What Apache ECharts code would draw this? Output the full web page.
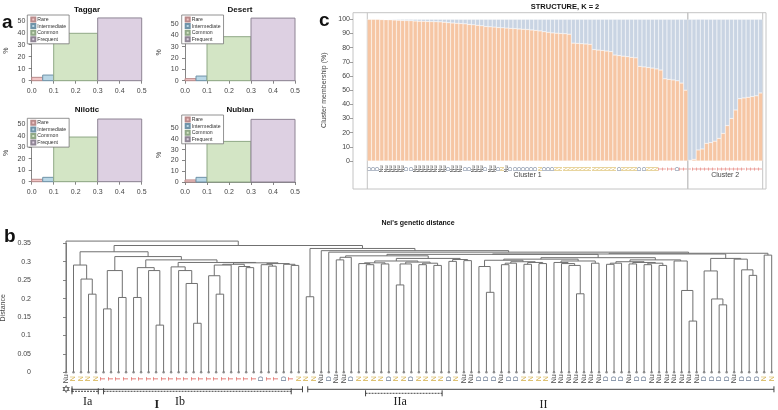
<!DOCTYPE html>
<html><head><meta charset="utf-8">
<script src="https://cdn.jsdelivr.net/npm/echarts@6/dist/echarts.min.js"></script>
<style>html,body{margin:0;padding:0;background:#fff}#c{width:778px;height:410px}</style>
</head><body><div id="c"></div><script>
// ---------- Panel a: allele-frequency class histograms ----------
const histTitles = ['Taggar', 'Desert', 'Nilotic', 'Nubian'];
const classNames = ['Rare', 'Intermediate', 'Common', 'Frequent'];
const classEdges = [0, 0.05, 0.1, 0.3, 0.5];
const taggarPct = [2.8, 4.7, 39.5, 52.3];
const desertPct = [1.8, 4.1, 38.8, 55.2];
const niloticPct = [2.1, 3.8, 38.9, 54.6];
const nubianPct = [1.9, 4.3, 37.6, 58.0];
const histPct = [taggarPct, desertPct, niloticPct, nubianPct];

// ---------- Panel c: STRUCTURE K = 2 ----------
const structPops = ('D D D Nu Nu Nu Nu Nu Nu D D Nu Nu Nu Nu Nu Nu Nu Nu D Nu Nu Nu D D Nu Nu Nu D Nu Nu D N Nu ' +
  'D D D D D D D N D D D N N N N N N N N N N N N N N N D N N N N D D N N N T T T T D T T ' +
  'T T T T T T T T T T T T T T T T T T').split(' ');
const cluster1Pct = [100, 100, 100, 99.8, 99.7, 99.6, 99.5, 99.4, 99.2,
  99.1, 99.0, 98.8, 98.7, 98.6, 98.5, 98.4, 98.3, 98.2, 98.0,
  97.6, 97.4, 97.2, 97.0, 96.8,
  96.4, 96.1, 95.8, 95.4,
  94.9, 94.7, 94.5, 94.2, 94.0, 93.8,
  93.6, 93.4, 93.2, 93.0, 92.8, 92.5, 92.2, 91.8,
  91.2, 90.8, 90.4, 90.2, 90.0, 89.8, 89.5,
  83.2, 83.0, 82.8, 82.6, 82.4,
  78.6, 78.3, 78.0, 77.6, 77.2,
  74.8, 74.4, 74.0, 73.6, 73.2, 72.8,
  66.8, 66.4, 66.0, 65.6, 65.0, 64.2,
  58.0, 57.6, 57.2, 56.6, 55.0,
  50.0,
  0.5, 1.2, 7.8, 8.5, 12.5, 13.0, 14.0, 16.0, 19.5, 25.0, 30.0, 36.0, 44.0, 44.5, 45.0, 45.5, 46.0, 48.0];
const clusterNames = ['Cluster 1', 'Cluster 2'];
const clusterSizes = [77, 18];

// ---------- Panel b: Nei's genetic distance dendrogram ----------
const leafPops = ('Nu N N N N T T T T T T T T T T T T T T T T T T T T T D T T D T N N N Nu D Nu Nu D N N N N D N N D ' +
  'N N N N D N Nu Nu D D D Nu D D N N N N Nu Nu Nu Nu Nu Nu Nu D D D Nu D D Nu Nu Nu Nu Nu Nu Nu D D D D Nu D D D N N').split(' ');
// nested merges: [height, left, right]; leaves are leaf indices
const clusterIa = [0.291, 1, [0.253, 2, [0.212, 3, 4]]];
const clusterIb = [0.314,
  [0.276, [0.172, 5, 6], [0.203, 7, 8]],
  [0.305,
    [0.284, [0.203, 9, 10], [0.276, 11, [0.128, 12, 13]]],
    [0.298,
      [0.286, 14, [0.276, 15, [0.241, 16, [0.133, 17, 18]]]],
      [0.297,
        [0.293, [0.291, [0.262, 19, [0.212, 20, 21]], 22], [0.287, 23, [0.284, 24, 25]]],
        [0.295, [0.292, 26, [0.288, 27, 28]], [0.293, 29, [0.290, 30, 31]]]]]]];
const groupP = [0.312, [0.305, 36, 37], 38];
const groupQ = [0.302, [0.297, [0.295, 39, [0.292, 40, 41]], [0.294, 42, 43]],
  [0.299, [0.294, [0.237, 44, 45], 46], [0.296, [0.292, 47, 48], [0.290, 49, 50]]]];
const groupR = [0.306, [0.301, 51, 52], [0.303, 53, 54]];
const groupS = [0.287, 55, [0.217, 56, 57]];
const groupT = [0.300, [0.296, [0.292, 58, 59], 60], [0.298, [0.293, 61, 62], [0.295, 63, 64]]];
const groupU = [0.302, [0.298, 65, [0.295, 66, [0.290, 67, [0.213, 68, 69]]]], [0.296, 70, 71]];
const groupV = [0.300, [0.296, [0.293, 72, 73], 74], [0.298, [0.294, 75, 76], [0.296, [0.292, 77, 78], [0.290, 79, 80]]]];
const groupW = [0.302, 81, [0.222, 82, [0.139, 83, 84]]];
const groupX = [0.309, [0.275, 85, [0.199, 86, [0.183, 87, 88]]], [0.307, 89, [0.278, 90, [0.263, 91, 92]]]];
const groupY = [0.318, 93, 94];
const clusterII = [0.336, [0.205, 32, 33],
  [0.330, 34, [0.326, 35,
    [0.323,
      [0.321,
        [0.320, [0.316, groupP, [0.309, groupQ, groupR]],
                [0.311, [0.307, [0.304, groupS, groupT], groupU], [0.305, groupV, groupW]]],
        groupX],
      groupY]]]];
const neiTree = [0.356, 0, [0.344, [0.327, clusterIa, clusterIb], clusterII]];
const bracketNames = ['I', 'Ia', 'Ib', 'II', 'IIa'];
const bracketFrom = [0.8, 0.8, 5.0, 32.2, 39.9];
const bracketTo = [31.5, 4.3, 30.0, 94.3, 50.1];
const bracketLabelAt = [12.1, 2.9, 15.2, 63.6, 44.5];

// ---------- styles ----------
const classFill = ['#f2c6c6', '#b9d7e6', '#d3e5c5', '#ddd0e2'];
const classStroke = ['#b98a8a', '#6f93a8', '#8fa886', '#8e8494'];
const popColor = { T: '#de5f58', N: '#d5b14c', D: '#6d7d96', Nu: '#4a4a4a' };
const FONT = '"Liberation Sans", Arial, sans-serif';
const SERIF = '"Liberation Serif", "Times New Roman", serif';

// dendrogram node segments computed from the tree
const dendroNodes = [];
function walk(node) {
  if (typeof node === 'number') return { x: node, h: 0 };
  const L = walk(node[1]), R = walk(node[2]);
  dendroNodes.push([L.x, L.h, R.x, R.h, node[0]]);
  return { x: (L.x + R.x) / 2, h: node[0] };
}
walk(neiTree);

const histGrids = [
  { left: 31.7, width: 110, top: 20.7, height: 60 },
  { left: 185, width: 110, top: 24, height: 56.7 },
  { left: 31.7, width: 110, top: 124.3, height: 57.4 },
  { left: 185, width: 110, top: 128, height: 54 }
];
const histTitlePos = [[87, 10], [240, 10], [87, 110], [240, 110]];
const legendPos = [[27.3, 15], [181.7, 15], [27.3, 118.3], [181.7, 115]];

const grid = histGrids.slice();
grid.push({ left: 367.3, right: 15.3, top: 19.3, height: 141.7 });
grid.push({ left: 66, right: 6.3, top: 243.3, height: 129 });
grid.forEach(g => { g.outerBoundsMode = 'none'; g.containLabel = false; });

const axisTxt = { fontSize: 7, color: '#444', fontFamily: FONT };
const xAxis = [], yAxis = [];
for (let i = 0; i < 4; i++) {
  xAxis.push({ gridIndex: i, type: 'value', min: 0, max: 0.5, interval: 0.1, offset: 3.5,
    axisLine: { show: true, lineStyle: { color: '#666', width: 0.8 } },
    axisTick: { show: true, length: 3, lineStyle: { color: '#666', width: 0.8 } },
    axisLabel: Object.assign({ margin: 3, formatter: v => v.toFixed(1) }, axisTxt),
    splitLine: { show: false } });
  yAxis.push({ gridIndex: i, type: 'value', min: 0, max: 50, interval: 10, offset: 4.4,
    axisLine: { show: true, lineStyle: { color: '#666', width: 0.8 } },
    axisTick: { show: true, length: 3, lineStyle: { color: '#666', width: 0.8 } },
    axisLabel: Object.assign({ margin: 2 }, axisTxt),
    name: '%', nameLocation: 'middle', nameGap: 18, nameRotate: 90,
    nameTextStyle: { fontSize: 7, color: '#444', fontFamily: FONT },
    splitLine: { show: false } });
}
xAxis.push({ gridIndex: 4, type: 'category', data: structPops.map((p, i) => i), show: false });
yAxis.push({ gridIndex: 4, type: 'value', min: 0, max: 100, interval: 10, offset: 14.3,
  axisLine: { show: false },
  axisTick: { show: true, length: 3, lineStyle: { color: '#888', width: 0.8 } },
  axisLabel: Object.assign({ margin: 3 }, axisTxt),
  name: 'Cluster membership (%)', nameLocation: 'middle', nameGap: 17, nameRotate: 90,
  nameTextStyle: { fontSize: 7, color: '#444', fontFamily: FONT },
  splitLine: { show: false } });
xAxis.push({ gridIndex: 5, type: 'value', min: 0, max: 94, show: false });
yAxis.push({ gridIndex: 5, type: 'value', min: 0, max: 0.35, interval: 0.05, offset: 33,
  axisLine: { show: true, lineStyle: { color: '#666', width: 0.8 } },
  axisTick: { show: true, length: 3, lineStyle: { color: '#666', width: 0.8 } },
  axisLabel: Object.assign({ margin: 2 }, axisTxt),
  name: 'Distance', nameLocation: 'middle', nameGap: 21, nameRotate: 90,
  nameTextStyle: { fontSize: 7, color: '#444', fontFamily: FONT },
  splitLine: { show: false } });

const series = [];
histPct.forEach((vals, g) => {
  classNames.forEach((name, k) => {
    series.push({
      type: 'custom', name, xAxisIndex: g, yAxisIndex: g, clip: false,
      itemStyle: { color: classFill[k], borderColor: classStroke[k], borderWidth: 1 },
      encode: { x: [0, 1], y: 2 },
      data: [[classEdges[k], classEdges[k + 1], vals[k]]],
      renderItem: (params, api) => {
        const p0 = api.coord([api.value(0), api.value(2)]);
        const p1 = api.coord([api.value(1), 0]);
        return { type: 'rect', shape: { x: p0[0], y: p0[1], width: p1[0] - p0[0], height: p1[1] - p0[1] },
          style: { fill: classFill[k], stroke: classStroke[k], lineWidth: 1 } };
      }
    });
  });
});

// STRUCTURE bars
series.push({ type: 'bar', name: 'K1', xAxisIndex: 4, yAxisIndex: 4, stack: 'k', barCategoryGap: 0,
  itemStyle: { color: '#f6c6a4', borderColor: 'rgba(255,255,255,0.45)', borderWidth: 0.5 },
  data: cluster1Pct, silent: true });
series.push({ type: 'bar', name: 'K2', xAxisIndex: 4, yAxisIndex: 4, stack: 'k', barCategoryGap: 0,
  itemStyle: { color: '#c9d4e3', borderColor: 'rgba(255,255,255,0.45)', borderWidth: 0.5 },
  data: cluster1Pct.map(v => +(100 - v).toFixed(2)), silent: true });
// STRUCTURE population labels
series.push({ type: 'custom', xAxisIndex: 4, yAxisIndex: 4, clip: false, silent: true,
  data: structPops.map((p, i) => [i, 0]),
  renderItem: (params, api) => {
    const p = api.coord([api.value(0), 0]);
    const code = structPops[params.dataIndex];
    return { type: 'text', x: p[0], y: p[1] + 8, rotation: Math.PI / 2,
      style: { text: code, fill: popColor[code], fontSize: 5.5, fontFamily: FONT, align: 'center', verticalAlign: 'middle' } };
  } });
// STRUCTURE cluster dividers and names
const clusterStarts = [0, clusterSizes[0]];
series.push({ type: 'custom', xAxisIndex: 4, yAxisIndex: 4, clip: false, silent: true,
  data: clusterNames.map((n, i) => [clusterStarts[i], clusterStarts[i] + clusterSizes[i] - 1]),
  renderItem: (params, api) => {
    const band = api.size([1, 0])[0];
    const a = api.coord([api.value(0), 100]);
    const b = api.coord([api.value(1), 0]);
    const xl = a[0] - band / 2, xr = b[0] + band / 2;
    const yt = a[1] - 6.6, yb = b[1] + 28;
    const children = [
      { type: 'line', shape: { x1: xl, y1: yt, x2: xl, y2: yb }, style: { stroke: '#c4c4c4', lineWidth: 1 } },
      { type: 'line', shape: { x1: xr, y1: yt, x2: xr, y2: yb }, style: { stroke: '#c4c4c4', lineWidth: 1 } },
      { type: 'text', x: (xl + xr) / 2, y: b[1] + 14.5,
        style: { text: clusterNames[params.dataIndex], fill: '#444', fontSize: 7, fontFamily: FONT, align: 'center', verticalAlign: 'middle' } }
    ];
    return { type: 'group', children };
  } });

// dendrogram
series.push({ type: 'custom', xAxisIndex: 5, yAxisIndex: 5, clip: false, silent: true,
  encode: { x: [0, 2], y: [1, 3, 4] },
  data: dendroNodes,
  renderItem: (params, api) => {
    const a = api.coord([api.value(0), api.value(1)]);
    const b = api.coord([api.value(0), api.value(4)]);
    const c = api.coord([api.value(2), api.value(4)]);
    const d = api.coord([api.value(2), api.value(3)]);
    return { type: 'polyline', shape: { points: [a, b, c, d] }, style: { stroke: '#707070', lineWidth: 1, fill: null } };
  } });
series.push({ type: 'scatter', xAxisIndex: 5, yAxisIndex: 5, symbol: 'circle', symbolSize: 2.5, silent: true,
  itemStyle: { color: '#777' }, data: leafPops.map((p, i) => [i, 0]) });
series.push({ type: 'custom', xAxisIndex: 5, yAxisIndex: 5, clip: false, silent: true,
  data: leafPops.map((p, i) => [i, 0]),
  renderItem: (params, api) => {
    const p = api.coord([api.value(0), 0]);
    const code = leafPops[params.dataIndex];
    return { type: 'text', x: p[0], y: p[1] + 6.5, rotation: Math.PI / 2,
      style: { text: code, fill: popColor[code], fontSize: 7, fontFamily: FONT, align: 'center', verticalAlign: 'middle' } };
  } });
// brackets
const bracketStyle = {
  I: { dy: 17, dash: null, labelDy: 32.5, bold: true },
  Ia: { dy: 19, dash: [2, 1], labelDy: 29.5, bold: false },
  Ib: { dy: 19, dash: [2, 1], labelDy: 29.5, bold: false },
  II: { dy: 17, dash: null, labelDy: 32.5, bold: false },
  IIa: { dy: 21, dash: [2, 1], labelDy: 29.5, bold: false }
};
series.push({ type: 'custom', xAxisIndex: 5, yAxisIndex: 5, clip: false, silent: true,
  data: bracketNames.map((n, i) => [bracketFrom[i], bracketTo[i], bracketLabelAt[i]]),
  renderItem: (params, api) => {
    const name = bracketNames[params.dataIndex];
    const st = bracketStyle[name];
    const a = api.coord([api.value(0), 0]);
    const b = api.coord([api.value(1), 0]);
    const l = api.coord([api.value(2), 0]);
    const y = a[1] + st.dy;
    const s = { stroke: '#444', lineWidth: 1, lineDash: st.dash };
    return { type: 'group', children: [
      { type: 'line', shape: { x1: a[0], y1: y, x2: b[0], y2: y }, style: s },
      { type: 'line', shape: { x1: a[0], y1: y - 3, x2: a[0], y2: y + 3 }, style: { stroke: '#444', lineWidth: 1 } },
      { type: 'line', shape: { x1: b[0], y1: y - 3, x2: b[0], y2: y + 3 }, style: { stroke: '#444', lineWidth: 1 } },
      { type: 'text', x: l[0], y: a[1] + st.labelDy,
        style: { text: name, fill: '#222', fontSize: 12, fontFamily: SERIF, fontWeight: st.bold ? 'bold' : 'normal', align: 'center', verticalAlign: 'middle' } }
    ] };
  } });

const legend = legendPos.map(p => ({
  data: classNames, left: p[0], top: p[1], orient: 'vertical', icon: 'rect',
  itemWidth: 4, itemHeight: 4, itemGap: 0.6, padding: [1.5, 3, 1.5, 3],
  backgroundColor: '#fff', borderColor: '#777', borderWidth: 0.8, selectedMode: false,
  textStyle: { fontSize: 5.2, color: '#333', fontFamily: FONT, lineHeight: 5, padding: [0, 0, 0, -3] }
}));

const graphic = [
  { type: 'text', x: 2, y: 13, style: { text: 'a', fontSize: 19, fontWeight: 'bold', fontFamily: FONT, fill: '#111', verticalAlign: 'alphabetic' } },
  { type: 'text', x: 4, y: 227, style: { text: 'b', fontSize: 19, fontWeight: 'bold', fontFamily: FONT, fill: '#111', verticalAlign: 'alphabetic' } },
  { type: 'text', x: 319, y: 11, style: { text: 'c', fontSize: 19, fontWeight: 'bold', fontFamily: FONT, fill: '#111', verticalAlign: 'alphabetic' } },
  { type: 'text', x: 565, y: 6.5, style: { text: 'STRUCTURE, K = 2', fontSize: 7.5, fontWeight: 'bold', fontFamily: FONT, fill: '#111', align: 'center', verticalAlign: 'middle' } },
  { type: 'text', x: 418, y: 223, style: { text: "Nei's genetic distance", fontSize: 7, fontWeight: 'bold', fontFamily: FONT, fill: '#111', align: 'center', verticalAlign: 'middle' } },
  { type: 'rect', shape: { x: 353, y: 12.7, width: 413, height: 176.3 }, style: { fill: null, stroke: '#c4c4c4', lineWidth: 1 }, z: -1 },
  { type: 'text', x: 66, y: 390.5, style: { text: '\u2721', fontSize: 11, fontFamily: '"DejaVu Sans"', fill: '#333', align: 'center', verticalAlign: 'middle' } }
];
histTitles.forEach((t, i) => graphic.push({ type: 'text', x: histTitlePos[i][0], y: histTitlePos[i][1],
  style: { text: t, fontSize: 8, fontWeight: 'bold', fontFamily: FONT, fill: '#111', align: 'center', verticalAlign: 'middle' } }));

const chart = echarts.init(document.getElementById('c'), null, { renderer: 'canvas' });
chart.setOption({ animation: false, backgroundColor: '#fff', grid, xAxis, yAxis, series, legend, graphic });
</script></body></html>
